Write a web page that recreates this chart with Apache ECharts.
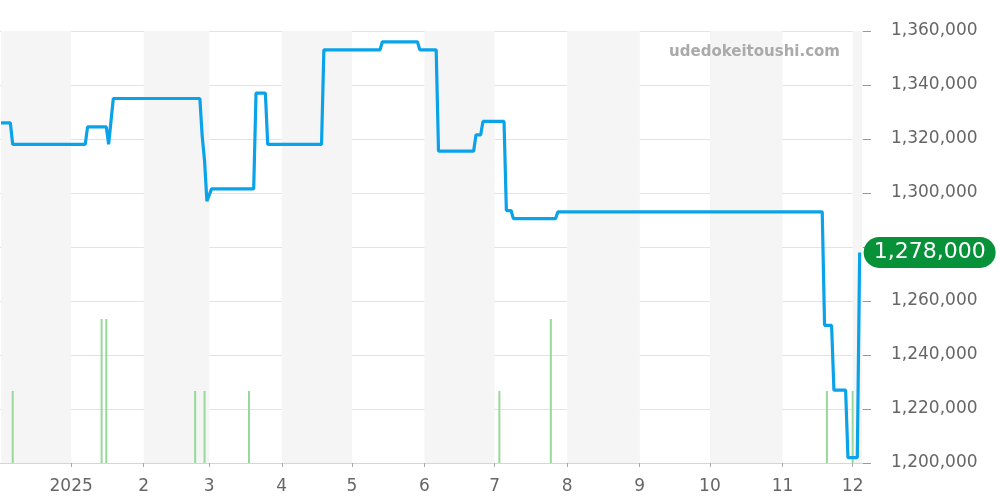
<!DOCTYPE html>
<html>
<head>
<meta charset="utf-8">
<script src="https://cdn.jsdelivr.net/npm/echarts@6/dist/echarts.min.js"></script>
<style>html,body{margin:0;padding:0;background:#fff}#c{width:1000px;height:500px}</style>
</head>
<body>
<div id="c"></div>
<script>
// Price change points (date, yen)
var priceDates = [
  '2024-12-02','2024-12-06','2024-12-07','2025-01-07','2025-01-08','2025-01-16','2025-01-17','2025-01-19',
  '2025-02-25','2025-02-26','2025-02-27','2025-02-28','2025-03-02','2025-03-20','2025-03-21','2025-03-25',
  '2025-03-26','2025-04-18','2025-04-19','2025-05-13','2025-05-14','2025-05-29','2025-05-30','2025-06-06',
  '2025-06-07','2025-06-22','2025-06-23','2025-06-25','2025-06-26','2025-07-05','2025-07-06','2025-07-08',
  '2025-07-09','2025-07-27','2025-07-28','2025-11-18','2025-11-19','2025-11-22','2025-11-23','2025-11-28',
  '2025-11-29','2025-12-03','2025-12-04'
];
var priceValues = [
  1326000,1326000,1318000,1318000,1324500,1324500,1318000,1335000,
  1335000,1321000,1312000,1297000,1301500,1301500,1337000,1337000,
  1318000,1318000,1353000,1353000,1356000,1356000,1353000,1353000,
  1315500,1315500,1321500,1321500,1326500,1326500,1293500,1293500,
  1290500,1290500,1293000,1293000,1251000,1251000,1227000,1227000,
  1202000,1202000,1278000
];
// Volume (transactions) per day
var volumeDates = ['2024-12-07','2025-01-14','2025-01-16','2025-02-23','2025-02-27','2025-03-18','2025-07-03','2025-07-25','2025-11-20','2025-12-01'];
var volumeValues = [1,2,2,1,1,1,1,2,1,1];
// Shaded month bands (alternate months)
var bandStarts = ['2024-12-02','2025-02-01','2025-04-01','2025-06-01','2025-08-01','2025-10-01','2025-12-01'];
var bandEnds   = ['2025-01-01','2025-03-01','2025-05-01','2025-07-01','2025-09-01','2025-11-01','2025-12-05'];
var axisMin = '2024-12-02', axisMax = '2025-12-05';
var yMin = 1200000, yMax = 1360000, yStep = 20000;
var watermark = 'udedokeitoushi.com';

function fmt(n){ return String(n).replace(/\B(?=(\d{3})+(?!\d))/g, ','); }
function ts(s){ var p = s.split('-'); return new Date(+p[0], +p[1]-1, +p[2]).getTime(); }

var priceData = priceDates.map(function(d,i){ return [ts(d), priceValues[i]]; });
var volData = volumeDates.map(function(d,i){ return [ts(d), volumeValues[i]]; });
var bands = bandStarts.map(function(s,i){ return [{xAxis: ts(s)}, {xAxis: ts(bandEnds[i])}]; });

var font = 'DejaVu Sans';
var chart = echarts.init(document.getElementById('c'));
chart.setOption({
  animation: false,
  backgroundColor: '#fff',
  grid: {left: 0, right: 137, top: 31, bottom: 37, containLabel: false},
  graphic: [{
    type: 'text', right: 160, top: 45, z: 100, zlevel: 0,
    style: {text: watermark, font: 'bold 15px "DejaVu Sans"', fill: '#aaaaaa', textAlign: 'right'}
  }],
  xAxis: {
    type: 'time', min: ts(axisMin), max: ts(axisMax), splitNumber: 12,
    axisLine: {show: true, lineStyle: {color: '#b9e4b9', type: 'dotted', width: 1}},
    axisTick: {show: true, length: 4, lineStyle: {color: '#aaa'}},
    splitLine: {show: false},
    axisLabel: {
      color: '#666', fontSize: 17, fontFamily: font, margin: 15,
      formatter: function(v){ var d = new Date(v); return d.getMonth() === 0 ? String(d.getFullYear()) : String(d.getMonth()+1); }
    }
  },
  yAxis: [{
    type: 'value', position: 'right', min: yMin, max: yMax, interval: yStep,
    axisLine: {show: false},
    axisTick: {show: true, length: 8, lineStyle: {color: '#999'}},
    splitLine: {show: true, lineStyle: {color: '#e3e3e3', width: 1}},
    axisLabel: {color: '#666', fontSize: 17, fontFamily: font, margin: 28, formatter: function(v){ return fmt(v); }}
  }, {
    type: 'value', min: 0, max: 6, show: false
  }],
  series: [{
    type: 'bar', yAxisIndex: 1, data: volData, barWidth: 2,
    itemStyle: {color: '#98d89b'}, silent: true,
    markArea: {silent: true, itemStyle: {color: '#f5f5f5'}, data: bands}, z: 1
  }, {
    type: 'line', data: priceData, showSymbol: false, symbol: 'none', z: 3,
    lineStyle: {color: '#0aa2e8', width: 3.2}, itemStyle: {color: '#0aa2e8'},
    endLabel: {
      show: true, distance: 4, formatter: function(p){ return fmt(p.value[1]); },
      color: '#fff', fontSize: 22, fontFamily: font, backgroundColor: '#079139',
      borderRadius: 16, padding: [5, 10, 4, 10]
    }
  }]
});
</script>
</body>
</html>
